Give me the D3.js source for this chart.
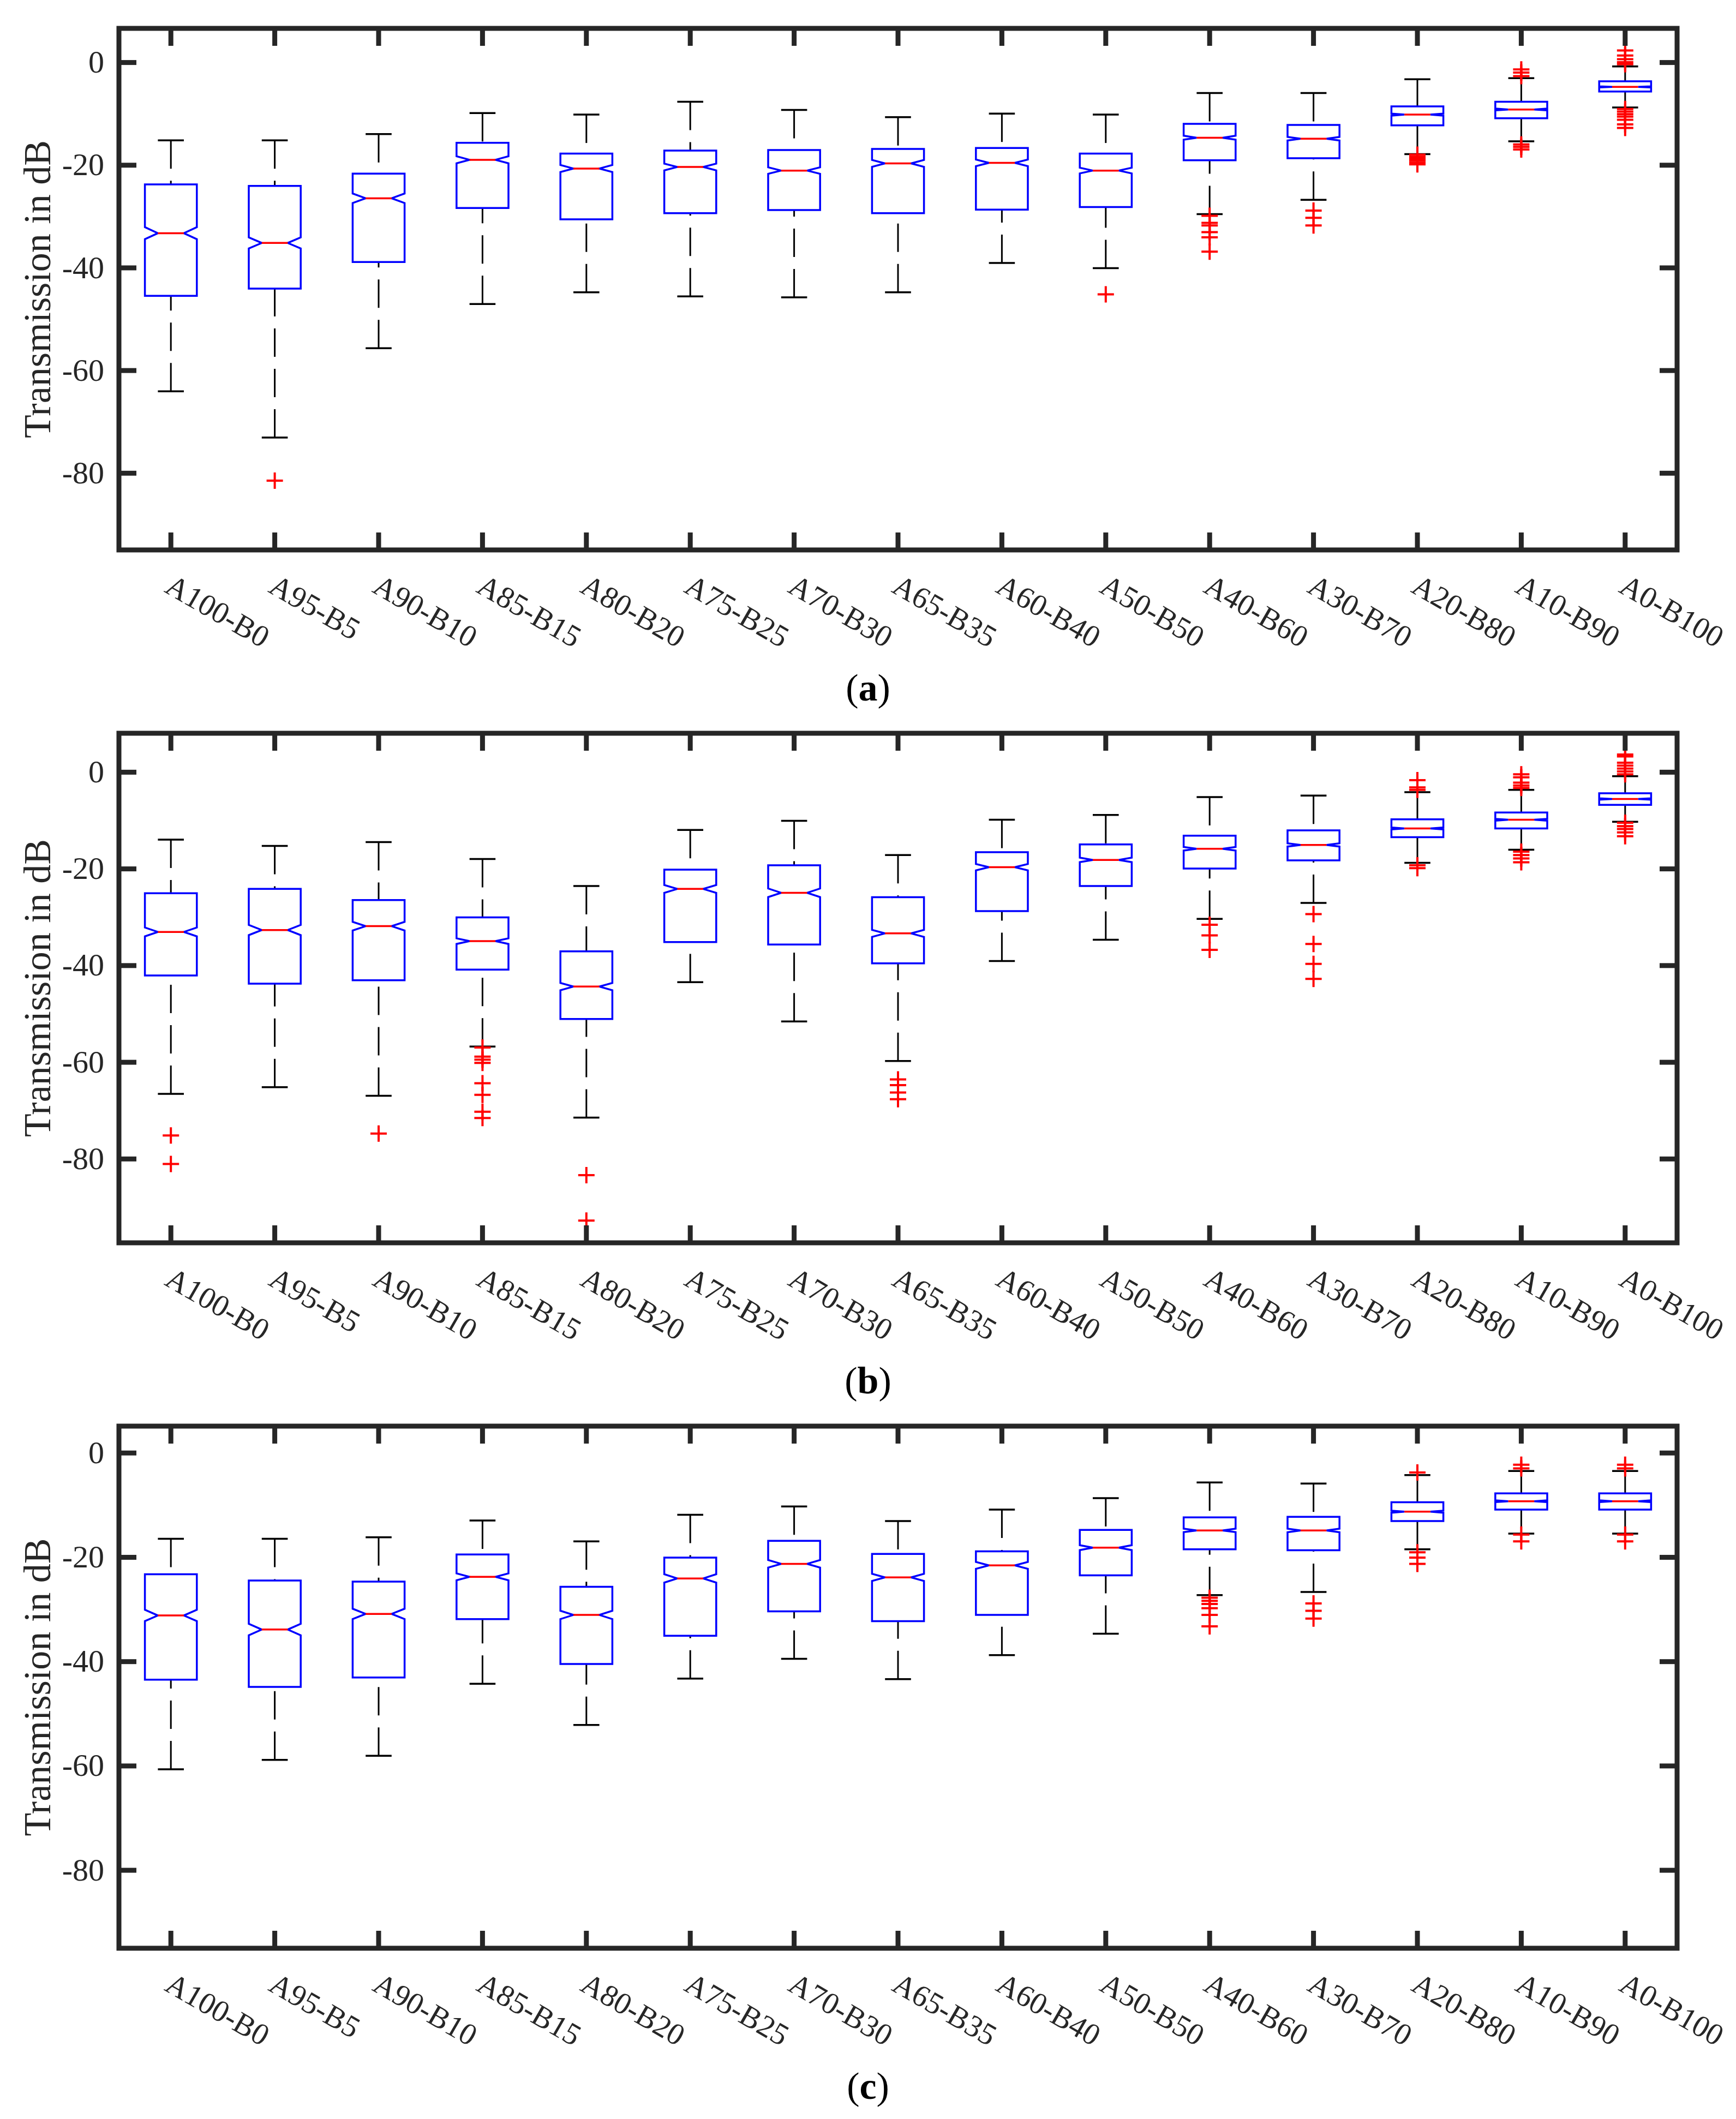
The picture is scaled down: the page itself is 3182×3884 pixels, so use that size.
<!DOCTYPE html>
<html>
<head>
<meta charset="utf-8">
<script src="https://cdn.jsdelivr.net/npm/d3@7"></script>
<style>
  body { margin: 0; background: #fff; }
  svg { display: block; }
</style>
</head>
<body>
<svg id="fig" width="3182" height="3884"></svg>
<script>
// categories (mixing ratio A/B)
const categories = ["A100-B0", "A95-B5", "A90-B10", "A85-B15", "A80-B20", "A75-B25", "A70-B30",
  "A65-B35", "A60-B40", "A50-B50", "A40-B60", "A30-B70", "A20-B80", "A10-B90", "A0-B100"];
const yTickValues = [0, -20, -40, -60, -80];
const sampleSize = 850; // used for notch width (1.57*IQR/sqrt(n))

// (a)
const upperA  = [-15.2, -15.2, -14.0, -9.9, -10.2, -7.7, -9.3, -10.7, -10.0, -10.2, -6.0, -6.0, -3.3, -3.1, -0.8];
const q3A     = [-23.8, -24.1, -21.7, -15.7, -17.8, -17.2, -17.1, -16.9, -16.7, -17.8, -12.0, -12.2, -8.6, -7.7, -3.7];
const medianA = [-33.3, -35.2, -26.5, -19.0, -20.7, -20.4, -21.1, -19.7, -19.6, -21.1, -14.7, -14.9, -10.2, -9.2, -4.8];
const q1A     = [-45.5, -44.1, -38.9, -28.4, -30.6, -29.4, -28.8, -29.4, -28.7, -28.2, -19.1, -18.7, -12.3, -10.9, -5.7];
const lowerA  = [-64.1, -73.1, -55.7, -47.1, -44.8, -45.6, -45.8, -44.8, -39.1, -40.1, -29.6, -26.8, -17.9, -15.4, -8.8];
const outliersA = [
  [], [-81.5], [], [], [], [], [], [], [], [-45.2],
  [-29.9, -31.3, -31.8, -33.1, -34.1, -36.9],
  [-28.9, -30.3, -31.8],
  [-18.0, -18.4, -18.8, -19.2, -19.6, -19.9],
  [-1.4, -2.0, -2.7, -16.0, -16.5, -17.0],
  [2.3, 1.3, 0.6, 0.0, -0.4, -9.1, -9.6, -10.1, -10.6, -11.2, -12.1, -12.8]
];

// (b)
const upperB  = [-14.0, -15.3, -14.5, -18.0, -23.6, -12.0, -10.1, -17.2, -9.9, -8.9, -5.2, -4.9, -4.2, -3.7, -0.9];
const q3B     = [-25.1, -24.2, -26.5, -30.1, -37.1, -20.2, -19.3, -25.9, -16.6, -15.0, -13.2, -12.1, -9.8, -8.4, -4.4];
const medianB = [-33.1, -32.7, -31.9, -35.0, -44.4, -24.2, -25.0, -33.4, -19.7, -18.2, -15.9, -15.1, -11.7, -9.9, -5.6];
const q1B     = [-42.1, -43.8, -43.1, -40.9, -51.1, -35.2, -35.7, -39.6, -28.8, -23.6, -20.0, -18.3, -13.5, -11.7, -6.8];
const lowerB  = [-66.6, -65.2, -67.0, -56.8, -71.5, -43.5, -51.6, -59.8, -39.1, -34.7, -30.4, -27.1, -18.8, -16.1, -10.3];
const outliersB = [
  [-75.2, -81.1], [], [-74.8],
  [-57.0, -58.9, -59.5, -60.2, -64.4, -66.8, -70.3, -71.6],
  [-83.4, -92.8], [], [],
  [-63.6, -64.8, -66.3, -67.7],
  [], [],
  [-31.6, -33.8, -36.8],
  [-29.4, -35.6, -39.7, -42.8],
  [-1.7, -3.2, -3.7, -19.3, -19.9],
  [-0.5, -1.1, -2.2, -2.8, -3.3, -16.5, -17.2, -17.9, -18.7],
  [3.6, 3.2, 1.9, 1.3, 0.7, 0.1, -0.5, -10.5, -11.2, -11.8, -12.5, -13.3]
];

// (c)
const upperC  = [-16.5, -16.5, -16.2, -13.0, -17.0, -11.9, -10.3, -13.1, -10.9, -8.7, -5.7, -5.9, -4.3, -3.5, -3.5];
const q3C     = [-23.3, -24.5, -24.7, -19.5, -25.7, -20.1, -16.9, -19.4, -18.9, -14.8, -12.4, -12.3, -9.5, -7.8, -7.8];
const medianC = [-31.2, -33.9, -30.9, -23.8, -31.1, -24.1, -21.3, -23.9, -21.6, -18.2, -14.9, -14.9, -11.3, -9.3, -9.3];
const q1C     = [-43.5, -44.9, -43.1, -31.9, -40.5, -35.1, -30.4, -32.3, -31.1, -23.5, -18.5, -18.7, -13.1, -10.9, -10.9];
const lowerC  = [-60.7, -58.9, -58.1, -44.3, -52.2, -43.3, -39.5, -43.4, -38.8, -34.7, -27.3, -26.7, -18.5, -15.5, -15.5];
const outliersC = [
  [], [], [], [], [], [], [], [], [], [],
  [-27.8, -28.4, -29.0, -29.8, -31.1, -33.3],
  [-28.9, -30.3, -31.8],
  [-3.8, -19.1, -20.1, -21.3],
  [-2.3, -3.0, -15.7, -17.0],
  [-2.3, -3.0, -15.7, -17.0]
];

const panels = [
  { tag: "a", upper: upperA, q3: q3A, median: medianA, q1: q1A, lower: lowerA, outliers: outliersA,
    top: 52, bottom: 1008, yMin: -95.0, yMax: 6.6 },
  { tag: "b", upper: upperB, q3: q3B, median: medianB, q1: q1B, lower: lowerB, outliers: outliersB,
    top: 1344, bottom: 2278, yMin: -97.4, yMax: 8.0 },
  { tag: "c", upper: upperC, q3: q3C, median: medianC, q1: q1C, lower: lowerC, outliers: outliersC,
    top: 2614, bottom: 3571, yMin: -95.0, yMax: 5.1 }
];

const font = "'Liberation Serif', 'Times New Roman', serif";
const axisColor = "#262626";
const left = 218, right = 3074;

const svg = d3.select("#fig");
svg.append("rect").attr("width", 3182).attr("height", 3884).attr("fill", "#fff");

const x = d3.scaleBand().domain(categories).range([left, right]);
const boxW = x.bandwidth() * 0.5;

panels.forEach(p => {
  const y = d3.scaleLinear().domain([p.yMin, p.yMax]).range([p.bottom, p.top]);
  const g = svg.append("g");

  const rows = categories.map((c, i) => ({
    cat: c, hi: p.upper[i], q3: p.q3[i], med: p.median[i], q1: p.q1[i], lo: p.lower[i], out: p.outliers[i]
  }));

  const box = g.selectAll("g.box").data(rows).join("g")
    .attr("class", "box")
    .attr("transform", d => `translate(${x(d.cat) + x.bandwidth() / 2},0)`);

  // whiskers (dashed)
  box.append("line")
    .attr("y1", d => y(d.hi)).attr("y2", d => y(d.q3))
    .attr("stroke", "#000").attr("stroke-width", 3).attr("stroke-dasharray", "52,22");
  box.append("line")
    .attr("y1", d => y(d.lo)).attr("y2", d => y(d.q1))
    .attr("stroke", "#000").attr("stroke-width", 3).attr("stroke-dasharray", "52,22");

  // caps
  box.append("line")
    .attr("x1", -boxW / 4).attr("x2", boxW / 4)
    .attr("y1", d => y(d.hi)).attr("y2", d => y(d.hi))
    .attr("stroke", "#000").attr("stroke-width", 3.5);
  box.append("line")
    .attr("x1", -boxW / 4).attr("x2", boxW / 4)
    .attr("y1", d => y(d.lo)).attr("y2", d => y(d.lo))
    .attr("stroke", "#000").attr("stroke-width", 3.5);

  // notched box
  box.append("path")
    .attr("d", d => {
      const c = 1.57 * (d.q3 - d.q1) / Math.sqrt(sampleSize);
      const h = boxW / 2, k = boxW / 4;
      return `M${-h},${y(d.q3)}H${h}V${y(d.med + c)}L${h - k},${y(d.med)}L${h},${y(d.med - c)}` +
             `V${y(d.q1)}H${-h}V${y(d.med - c)}L${-h + k},${y(d.med)}L${-h},${y(d.med + c)}Z`;
    })
    .attr("fill", "none").attr("stroke", "#0000ff").attr("stroke-width", 3.5)
    .attr("stroke-linejoin", "miter");

  // median
  box.append("line")
    .attr("x1", -boxW / 4).attr("x2", boxW / 4)
    .attr("y1", d => y(d.med)).attr("y2", d => y(d.med))
    .attr("stroke", "#ff0000").attr("stroke-width", 3.5);

  // outliers
  box.selectAll("path.out").data(d => d.out).join("path")
    .attr("class", "out")
    .attr("d", v => `M-15,${y(v)}h30M0,${y(v) - 15}v30`)
    .attr("stroke", "#ff0000").attr("stroke-width", 4).attr("fill", "none");

  // axes
  const styleAxis = sel => {
    sel.select(".domain").remove();
    sel.selectAll(".tick line").attr("stroke", axisColor).attr("stroke-width", 9);
    sel.selectAll(".tick text").attr("fill", axisColor).style("font-family", font).style("font-size", "58px");
  };

  g.append("g").attr("transform", `translate(${left},0)`)
    .call(d3.axisLeft(y).tickValues(yTickValues).tickSize(-32).tickPadding(27).tickFormat(d => String(d)))
    .call(styleAxis);
  g.append("g").attr("transform", `translate(${right},0)`)
    .call(d3.axisRight(y).tickValues(yTickValues).tickSize(-32).tickFormat(""))
    .call(styleAxis);
  g.append("g").attr("transform", `translate(0,${p.top})`)
    .call(d3.axisTop(x).tickSize(-32).tickFormat(""))
    .call(styleAxis);
  g.append("g").attr("transform", `translate(0,${p.bottom})`)
    .call(d3.axisBottom(x).tickSize(-32))
    .call(styleAxis)
    .call(a => a.selectAll(".tick text")
      .attr("x", 0).attr("y", 0).attr("dy", 0)
      .attr("text-anchor", "start")
      .style("font-size", "56px")
      .attr("transform", "translate(-14,76) rotate(30)"));

  // frame
  g.append("rect")
    .attr("x", left).attr("y", p.top)
    .attr("width", right - left).attr("height", p.bottom - p.top)
    .attr("fill", "none").attr("stroke", axisColor).attr("stroke-width", 9);

  // y label
  g.append("text")
    .attr("transform", `translate(92,${(p.top + p.bottom) / 2}) rotate(-90)`)
    .attr("text-anchor", "middle")
    .attr("fill", axisColor)
    .style("font-family", font).style("font-size", "70px")
    .text("Transmission in dB");

  // caption, centred on the page under the tick labels
  const cap = g.append("text")
    .attr("x", 1591).attr("y", p.bottom + 276)
    .attr("text-anchor", "middle")
    .attr("fill", "#000")
    .style("font-family", font).style("font-size", "70px");
  cap.append("tspan").text("(");
  cap.append("tspan").style("font-weight", "bold").text(p.tag);
  cap.append("tspan").text(")");
});
</script>
</body>
</html>
